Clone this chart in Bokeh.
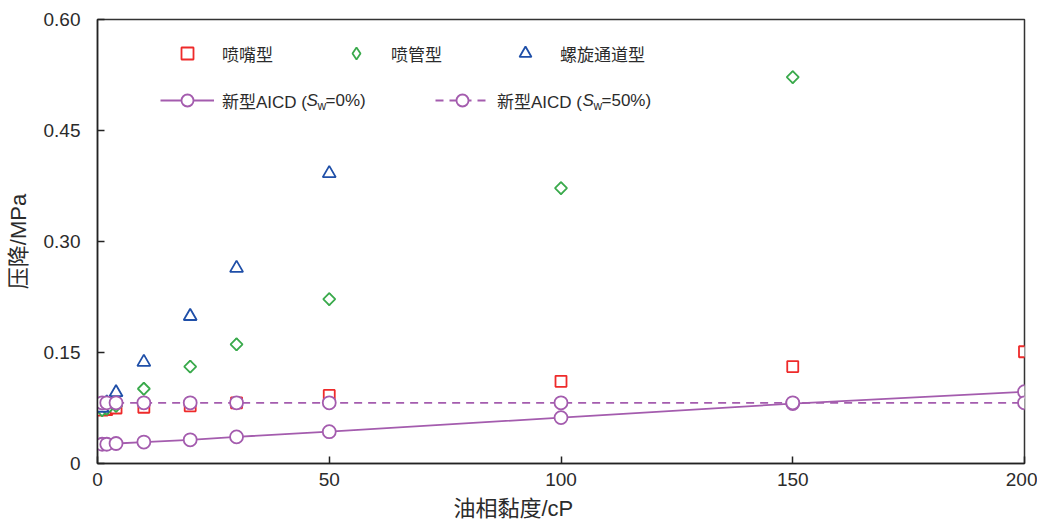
from bokeh.plotting import figure
from bokeh.models import (FixedTicker, Legend, LegendItem, Label, Range1d, Title)
from bokeh.embed import file_html
from bokeh.resources import INLINE

# Oil-phase viscosity (cP) and pressure drop (MPa) for each device type
visc_nozzle = [1, 2, 4, 10, 20, 30, 50, 100, 150, 200]
dp_nozzle = [0.072, 0.073, 0.075, 0.076, 0.078, 0.082, 0.092, 0.111, 0.131, 0.151]

visc_tube = [1, 2, 4, 10, 20, 30, 50, 100, 150]
dp_tube = [0.072, 0.074, 0.078, 0.101, 0.131, 0.161, 0.222, 0.372, 0.522]

visc_spiral = [1, 2, 4, 10, 20, 30, 50]
dp_spiral = [0.075, 0.082, 0.096, 0.137, 0.199, 0.264, 0.392]

visc_aicd = [1, 2, 4, 10, 20, 30, 50, 100, 150, 200]
dp_aicd_sw0 = [0.026, 0.026, 0.027, 0.029, 0.032, 0.036, 0.043, 0.062, 0.081, 0.097]
dp_aicd_sw50 = [0.082, 0.082, 0.082, 0.082, 0.082, 0.082, 0.082, 0.082, 0.082, 0.082]

x_ticks = [0, 50, 100, 150, 200]
y_ticks = [0, 0.15, 0.30, 0.45, 0.60]
y_tick_labels = ["0", "0.15", "0.30", "0.45", "0.60"]

FONT = "'Liberation Sans', 'Noto Sans CJK SC', sans-serif"
TEXT = "#2b2b2b"
RED = "#ee2a2a"
GREEN = "#3aaa4c"
BLUE = "#1f4fa8"
PURPLE = "#a45cae"

p = figure(width=1037, height=525, output_backend="svg", toolbar_location=None,
           x_range=Range1d(0, 200), y_range=Range1d(0, 0.6),
           min_border_left=97, min_border_right=13, min_border_top=19,
           min_border_bottom=62)
p.grid.visible = False
p.background_fill_color = "white"
p.border_fill_color = "white"
p.outline_line_color = "#333333"
p.outline_line_width = 1.5

for ax in (p.xaxis[0], p.yaxis[0]):
    ax.axis_line_color = "#222222"
    ax.axis_line_width = 1.5
    ax.major_tick_line_color = "#222222"
    ax.major_tick_line_width = 1.5
    ax.major_tick_in = 7
    ax.major_tick_out = 0
    ax.minor_tick_line_color = None
    ax.major_label_text_font = FONT
    ax.major_label_text_font_size = "19px"
    ax.major_label_text_color = TEXT

p.xaxis.ticker = FixedTicker(ticks=x_ticks)
p.xaxis.major_label_standoff = 9
p.yaxis.ticker = FixedTicker(ticks=y_ticks)
p.yaxis.major_label_overrides = {t: s for t, s in zip(y_ticks, y_tick_labels)}
p.yaxis.major_label_standoff = 17
p.yaxis.axis_label = "压降/MPa"
p.yaxis.axis_label_text_font = FONT
p.yaxis.axis_label_text_font_size = "22px"
p.yaxis.axis_label_text_font_style = "normal"
p.yaxis.axis_label_text_color = TEXT
p.yaxis.axis_label_standoff = 10

# x-axis title, under the tick labels and shifted left of centre
p.add_layout(Title(text="油相黏度/cP", align="left", offset=356, standoff=10,
                   text_font=FONT, text_font_size="22px",
                   text_font_style="normal", text_color=TEXT), "below")

mk = dict(fill_color="white", line_width=1.8)
r_nozzle = p.scatter(visc_nozzle, dp_nozzle, marker="square", size=11,
                     line_color=RED, **mk)
# diamond swatch used as the tube type's legend key (sits under the markers)
r_tube_key = p.scatter(visc_tube, dp_tube, marker="diamond", size=12,
                       line_color=GREEN, **mk)
p.scatter(visc_tube, dp_tube, marker="square", size=8.5, angle=0.7854,
          line_color=GREEN, **mk)
r_spiral = p.scatter(visc_spiral, dp_spiral, marker="triangle", size=13,
                     line_color=BLUE, **mk)

l_sw0 = p.line(visc_aicd, dp_aicd_sw0, line_color=PURPLE, line_width=1.8)
c_sw0 = p.scatter(visc_aicd, dp_aicd_sw0, marker="circle", size=13,
                  line_color=PURPLE, **mk)
l_sw50 = p.line(visc_aicd, dp_aicd_sw50, line_color=PURPLE, line_width=1.8,
                line_dash="8 6")
c_sw50 = p.scatter(visc_aicd, dp_aicd_sw50, marker="circle", size=13,
                   line_color=PURPLE, **mk)

leg_style = dict(border_line_color=None, background_fill_alpha=0, padding=0,
                 margin=0, glyph_width=54, glyph_height=30, label_height=30,
                 label_standoff=8, label_text_font=FONT,
                 label_text_font_size="17px", label_text_color=TEXT,
                 label_text_baseline="middle", orientation="horizontal")

top_legend = Legend(items=[LegendItem(label="喷嘴型", renderers=[r_nozzle]),
                           LegendItem(label="喷管型", renderers=[r_tube_key]),
                           LegendItem(label="螺旋通道型", renderers=[r_spiral])],
                    location=(63, 395), spacing=56, **leg_style)
leg_sw0 = Legend(items=[LegendItem(label="新型AICD (", renderers=[l_sw0, c_sw0])],
                 location=(63, 348), **leg_style)
leg_sw50 = Legend(items=[LegendItem(label="新型AICD (", renderers=[l_sw50, c_sw50])],
                  location=(338, 348), **leg_style)
for lg in (top_legend, leg_sw0, leg_sw50):
    p.add_layout(lg, "center")

# italic S with subscript w, completing the AICD legend entries
def sw_label(x0, rest):
    y0 = 363
    p.add_layout(Label(x=x0, y=y0, x_units="screen", y_units="screen", text="S",
                       text_font=FONT, text_font_size="17px",
                       text_font_style="italic", text_color=TEXT,
                       text_baseline="middle"))
    p.add_layout(Label(x=x0 + 11, y=y0 - 5, x_units="screen", y_units="screen",
                       text="w", text_font=FONT, text_font_size="12px",
                       text_color=TEXT, text_baseline="middle"))
    p.add_layout(Label(x=x0 + 19, y=y0, x_units="screen", y_units="screen",
                       text=rest, text_font=FONT, text_font_size="17px",
                       text_color=TEXT, text_baseline="middle"))

sw_label(209, "=0%)")
sw_label(485, "=50%)")

open("out.html", "w").write(file_html(p, INLINE))
